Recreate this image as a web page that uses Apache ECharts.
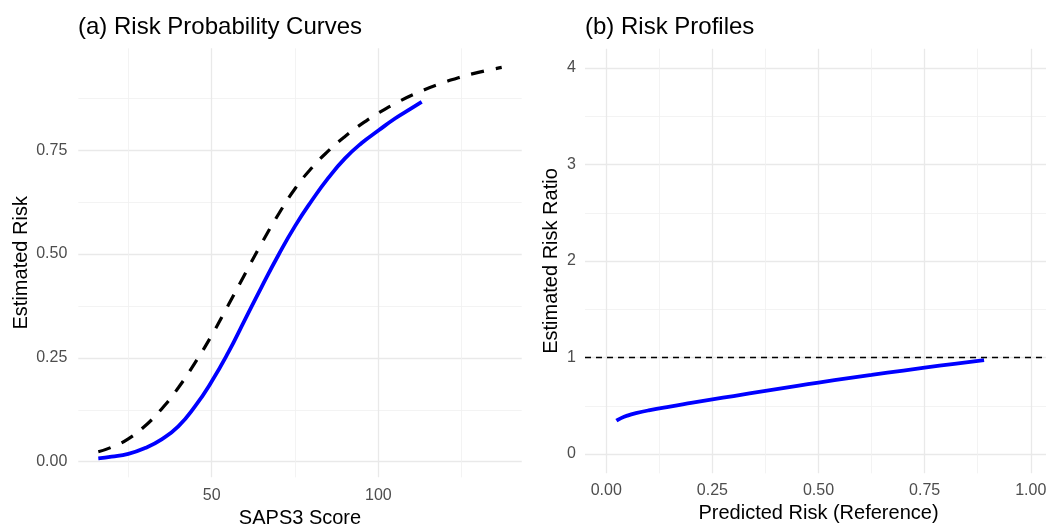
<!DOCTYPE html>
<html><head><meta charset="utf-8">
<script src="https://cdn.jsdelivr.net/npm/echarts@6/dist/echarts.min.js"></script>
<style>html,body{margin:0;padding:0;background:#fff}#c{width:1046px;height:526px}</style>
</head><body><div id="c"></div>
<script>
// Panel (a): SAPS3 score vs estimated risk
const sapsModel = [16, 20, 25, 30, 35, 40, 45, 50, 55, 60, 65, 70, 75, 80, 85, 90, 95, 100, 105, 110, 113];
const riskModel = [0.008, 0.012, 0.019, 0.033, 0.054, 0.085, 0.133, 0.193, 0.263, 0.342, 0.421, 0.497, 0.567, 0.628, 0.683, 0.73, 0.767, 0.797, 0.826, 0.851, 0.866];
const sapsRef = [16, 20, 25, 30, 35, 40, 45, 50, 55, 60, 65, 70, 75, 80, 85, 90, 95, 100, 106, 112, 118, 124, 130, 137];
const riskRef = [0.024, 0.035, 0.055, 0.086, 0.127, 0.178, 0.238, 0.304, 0.377, 0.452, 0.526, 0.595, 0.657, 0.707, 0.748, 0.783, 0.813, 0.839, 0.866, 0.889, 0.908, 0.924, 0.937, 0.949];
// Panel (b): predicted risk (reference) vs estimated risk ratio
const predRisk = [0.024, 0.035, 0.05, 0.07, 0.1, 0.15, 0.2, 0.25, 0.3, 0.375, 0.45, 0.5, 0.575, 0.625, 0.7, 0.75, 0.82, 0.89];
const riskRatio = [0.345, 0.372, 0.398, 0.423, 0.452, 0.492, 0.529, 0.565, 0.601, 0.654, 0.706, 0.74, 0.788, 0.819, 0.865, 0.895, 0.934, 0.972];
const refRatio = [1];
// Tick values
const aXTicks = [50, 100];
const aXMinor = [25, 75, 125];
const aYTicks = [0, 0.25, 0.5, 0.75];
const aYMinor = [0.125, 0.375, 0.625, 0.875];
const bXTicks = [0, 0.25, 0.5, 0.75, 1];
const bXMinor = [0.125, 0.375, 0.625, 0.875];
const bYTicks = [0, 1, 2, 3, 4];
const bYMinor = [0.5, 1.5, 2.5, 3.5];

const FONT = '"Liberation Sans", Arial, sans-serif';
const zip = (xs, ys) => xs.map((x, i) => [x, ys[i]]);

function majorAxis(grid, min, max, ticks, fmt, margin, extra) {
  return Object.assign({
    gridIndex: grid, type: 'value', min: min, max: max,
    axisLine: { show: false },
    axisTick: { show: false, customValues: ticks },
    axisLabel: { customValues: ticks, color: '#4d4d4d', fontSize: 16, fontFamily: FONT, formatter: fmt, margin: margin },
    splitLine: { show: true, lineStyle: { color: '#e9e9e9', width: 1.3 } }
  }, extra);
}
function minorAxis(grid, min, max, ticks) {
  return {
    gridIndex: grid, type: 'value', min: min, max: max,
    axisLine: { show: false },
    axisTick: { show: false, customValues: ticks },
    axisLabel: { show: false, customValues: ticks },
    splitLine: { show: true, lineStyle: { color: '#f0f0f0', width: 0.8 } }
  };
}
const nameStyle = { color: '#000', fontSize: 20, fontFamily: FONT };

const chart = echarts.init(document.getElementById('c'), null, { renderer: 'canvas' });
chart.setOption({
  animation: false,
  backgroundColor: '#fff',
  title: [
    { text: '(a) Risk Probability Curves', left: 73, top: 10, textStyle: { fontSize: 24, fontWeight: 'normal', color: '#000', fontFamily: FONT } },
    { text: '(b) Risk Profiles', left: 580, top: 10, textStyle: { fontSize: 24, fontWeight: 'normal', color: '#000', fontFamily: FONT } }
  ],
  grid: [
    { left: 78.3, right: 524.3, top: 48.3, bottom: 48.7, outerBoundsMode: 'none', containLabel: false },
    { left: 585, right: -6, top: 48.7, bottom: 52.7, outerBoundsMode: 'none', containLabel: false }
  ],
  xAxis: [
    majorAxis(0, 10, 143, aXTicks, v => String(v), 10, { name: 'SAPS3 Score', nameLocation: 'middle', nameGap: 30, nameTextStyle: nameStyle }),
    minorAxis(0, 10, 143, aXMinor),
    majorAxis(1, -0.05, 1.05, bXTicks, v => v.toFixed(2), 9, { name: 'Predicted Risk (Reference)', nameLocation: 'middle', nameGap: 30, nameTextStyle: nameStyle }),
    minorAxis(1, -0.05, 1.05, bXMinor)
  ],
  yAxis: [
    majorAxis(0, -0.0375, 0.995, aYTicks, v => v.toFixed(2), 11, { name: 'Estimated Risk', nameLocation: 'middle', nameGap: 47, nameTextStyle: nameStyle }),
    minorAxis(0, -0.0375, 0.995, aYMinor),
    majorAxis(1, -0.2, 4.2, bYTicks, v => String(v), 9, { name: 'Estimated Risk Ratio', nameLocation: 'middle', nameGap: 24, nameTextStyle: nameStyle }),
    minorAxis(1, -0.2, 4.2, bYMinor)
  ],
  series: [
    { type: 'line', xAxisIndex: 0, yAxisIndex: 0, data: zip(sapsRef, riskRef), smooth: true, showSymbol: false,
      lineStyle: { color: '#000', width: 3.2, type: [13, 12], cap: 'butt' } },
    { type: 'line', xAxisIndex: 0, yAxisIndex: 0, data: zip(sapsModel, riskModel), smooth: true, showSymbol: false,
      lineStyle: { color: '#0000ff', width: 3.8, cap: 'butt' } },
    { type: 'line', xAxisIndex: 2, yAxisIndex: 2, data: zip(predRisk, riskRatio), smooth: true, showSymbol: false,
      lineStyle: { color: '#0000ff', width: 3.8, cap: 'butt' },
      markLine: { silent: true, symbol: 'none', label: { show: false },
        lineStyle: { color: '#000', width: 1.4, type: [6, 5] },
        data: refRatio.map(v => ({ yAxis: v })) } }
  ]
});
</script>
</body></html>
